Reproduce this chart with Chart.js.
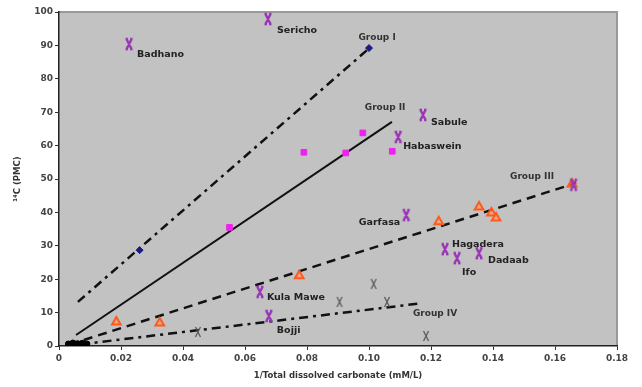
<!DOCTYPE html>
<html>
<head>
<meta charset="utf-8">
<script src="https://cdn.jsdelivr.net/npm/chart.js@4/dist/chart.umd.min.js"></script>
<style>
  html, body { margin: 0; padding: 0; background: #fff; }
  #wrap { width: 642px; height: 387px; }
</style>
</head>
<body>
<div id="wrap"><canvas id="c14Chart" width="642" height="387"></canvas></div>
<script>
// x ticks: 1/Total dissolved carbonate (mM/L), y: 14C (PMC)
const xTicks = [0, 0.02, 0.04, 0.06, 0.08, 0.10, 0.12, 0.14, 0.16, 0.18];
const yTicks = [0, 10, 20, 30, 40, 50, 60, 70, 80, 90, 100];

// Group I samples (blue diamonds)
const groupIX = [0.026, 0.100];
const groupIY = [28.7, 89.2];

// Group II samples (magenta squares)
const groupIIX = [0.055, 0.079, 0.0925, 0.098, 0.1075];
const groupIIY = [35.5, 58.0, 57.8, 63.8, 58.3];

// Group III samples (orange triangles)
const groupIIIX = [0.0185, 0.0325, 0.0775, 0.1225, 0.1355, 0.1395, 0.141, 0.1655];
const groupIIIY = [7.2, 6.9, 21.0, 37.2, 41.6, 39.8, 38.3, 48.5];

// Group IV samples (black crosses)
const groupIVX = [0.0448, 0.0905, 0.1015, 0.1058, 0.1184];
const groupIVY = [4.2, 13.2, 18.6, 13.2, 3.0];

// samples near the origin
const originX = [0.003, 0.0045, 0.006, 0.0075, 0.009];
const originY = [0.6, 0.9, 0.7, 0.8, 0.6];

// named sites (purple crosses)
const siteNames = ['Badhano', 'Sericho', 'Sabule', 'Habaswein', 'Garfasa', 'Hagadera', 'Ifo', 'Dadaab', 'Kula Mawe', 'Bojji', ''];
const siteX = [0.0226, 0.0674, 0.1174, 0.1094, 0.112, 0.1245, 0.1284, 0.1355, 0.0648, 0.0677, 0.166];
const siteY = [90.4, 97.9, 69.2, 62.6, 39.2, 29.0, 26.3, 27.8, 16.2, 9.0, 48.3];

// fitted group lines (end points)
const lineIX = [0.0061, 0.0994];   const lineIY = [13.2, 88.6];
const lineIIX = [0.0055, 0.1074];  const lineIIY = [3.3, 67.1];
const lineIIIX = [0.008, 0.1668];  const lineIIIY = [1.8, 48.8];
const lineIVX = [0.007, 0.117];    const lineIVY = [0.5, 12.8];

const groupNames = ['Group I', 'Group II', 'Group III', 'Group IV'];
const groupLabelX = [0.1026, 0.1052, 0.1526, 0.1213];
const groupLabelY = [92.2, 71.3, 50.6, 9.6];

function pts(xs, ys) {
    let out = [];
    for (let i = 0; i < xs.length; i++) {
        out.push({x: xs[i], y: ys[i]});
    }
    return out;
}

// cross marker with short serifs, as drawn in the original
function crossMarker(color, lw, serif) {
    const c = document.createElement('canvas');
    c.width = 12; c.height = 14;
    const g = c.getContext('2d');
    g.strokeStyle = color;
    g.lineWidth = lw;
    g.beginPath();
    g.moveTo(3.5, 2); g.lineTo(8.5, 12);
    g.moveTo(8.5, 2); g.lineTo(3.5, 12);
    if (serif) {
        g.moveTo(2.5, 2); g.lineTo(5, 2);
        g.moveTo(7, 2); g.lineTo(9.5, 2);
        g.moveTo(2.5, 12); g.lineTo(5, 12);
        g.moveTo(7, 12); g.lineTo(9.5, 12);
    }
    g.stroke();
    return c;
}

const purpleX = crossMarker('#9a35b5', 2.4, true);
const blackX = crossMarker('#555', 1.2, false);

// pixel offsets of each site name from its marker
const siteLabelOffsets = [
    [8, 10, 'left'], [9, 12, 'left'], [8, 8, 'left'], [5, 10, 'left'],
    [-6, 7, 'right'], [7, -5, 'left'], [5, 14, 'left'], [9, 7, 'left'],
    [7, 6, 'left'], [8, 15, 'left'], [0, 0, 'left']
];

const plotBackground = {
    id: 'plotBackground',
    beforeDraw(chart) {
        const {ctx, chartArea: a} = chart;
        ctx.save();
        ctx.fillStyle = '#c2c2c2';
        ctx.fillRect(a.left, a.top, a.right - a.left, a.bottom - a.top);
        ctx.strokeStyle = '#999';
        ctx.lineWidth = 2;
        ctx.beginPath();
        ctx.moveTo(a.left, a.top);
        ctx.lineTo(a.right, a.top);
        ctx.lineTo(a.right, a.bottom);
        ctx.stroke();
        ctx.restore();
    }
};

const textLabels = {
    id: 'textLabels',
    afterDatasetsDraw(chart) {
        const {ctx} = chart;
        const xs = chart.scales.x, ys = chart.scales.y;
        ctx.save();
        ctx.fillStyle = '#222';
        ctx.font = 'bold 9.5px "DejaVu Sans", sans-serif';
        ctx.textBaseline = 'middle';
        for (let i = 0; i < siteNames.length; i++) {
            const o = siteLabelOffsets[i];
            ctx.textAlign = o[2];
            ctx.fillText(siteNames[i], xs.getPixelForValue(siteX[i]) + o[0], ys.getPixelForValue(siteY[i]) + o[1]);
        }
        ctx.textAlign = 'center';
        ctx.fillStyle = '#333';
        ctx.font = 'bold 9px "DejaVu Sans", sans-serif';
        for (let i = 0; i < groupNames.length; i++) {
            ctx.fillText(groupNames[i], xs.getPixelForValue(groupLabelX[i]), ys.getPixelForValue(groupLabelY[i]));
        }
        ctx.restore();
    }
};

function lineSet(xs, ys, dash, width) {
    return {
        data: pts(xs, ys),
        showLine: true,
        borderColor: '#111',
        borderWidth: width,
        borderDash: dash,
        pointRadius: 0,
        order: 5
    };
}

const tickFont = {family: '"DejaVu Sans", sans-serif', size: 9, weight: 'bold'};
const titleFont = {family: '"DejaVu Sans", sans-serif', size: 8.5, weight: 'bold'};

let ctx = document.getElementById('c14Chart');
let chart = new Chart(ctx, {
    type: 'scatter',
    data: {
        datasets: [
            lineSet(lineIX, lineIY, [9, 5, 3, 5], 2.5),
            lineSet(lineIIX, lineIIY, [], 2),
            lineSet(lineIIIX, lineIIIY, [9, 6], 2.5),
            lineSet(lineIVX, lineIVY, [9, 5, 3, 5], 2.5),
            {
                data: pts(groupIX, groupIY),
                pointStyle: 'rectRot',
                pointRadius: 3.5,
                backgroundColor: '#1a1a80',
                borderColor: '#1a1a80',
                order: 1
            },
            {
                data: pts(groupIIX, groupIIY),
                pointStyle: 'rect',
                pointRadius: 4,
                backgroundColor: '#ee22ee',
                borderColor: '#ee22ee',
                order: 1
            },
            {
                data: pts(groupIIIX, groupIIIY),
                pointStyle: 'triangle',
                pointRadius: 5,
                borderWidth: 2,
                backgroundColor: 'rgba(255,150,90,0.6)',
                borderColor: '#ff5a1e',
                order: 2
            },
            {
                data: pts(groupIVX, groupIVY),
                pointStyle: blackX,
                order: 1
            },
            {
                data: pts(originX, originY),
                pointStyle: 'circle',
                pointRadius: 3,
                backgroundColor: '#000',
                borderColor: '#000',
                order: 1
            },
            {
                data: pts(siteX, siteY),
                pointStyle: purpleX,
                order: 0
            }
        ]
    },
    options: {
        responsive: false,
        animation: false,
        events: [],
        layout: {padding: {left: 0, top: 12, right: 25, bottom: 0}},
        plugins: {
            legend: {display: false},
            tooltip: {enabled: false}
        },
        scales: {
            x: {
                type: 'linear',
                min: 0,
                max: 0.18,
                afterBuildTicks(s) { s.ticks = xTicks.map(v => ({value: v})); },
                afterFit(s) { s.height = 41; },
                grid: {drawOnChartArea: false, drawTicks: true, tickLength: 4, color: '#333'},
                border: {color: '#222', width: 1.5},
                ticks: {
                    font: tickFont,
                    color: '#444',
                    padding: 3,
                    callback: v => v === 0 ? '0' : v.toFixed(2)
                },
                title: {
                    display: true,
                    text: '1/Total dissolved carbonate (mM/L)',
                    font: titleFont,
                    color: '#333',
                    padding: {top: 2, bottom: 6}
                }
            },
            y: {
                type: 'linear',
                min: 0,
                max: 100,
                afterBuildTicks(s) { s.ticks = yTicks.map(v => ({value: v})); },
                afterFit(s) { s.width = 59; },
                grid: {drawOnChartArea: false, drawTicks: true, tickLength: 4, color: '#333'},
                border: {color: '#222', width: 1.5},
                ticks: {
                    font: tickFont,
                    color: '#444',
                    padding: 2
                },
                title: {
                    display: true,
                    text: '¹⁴C (PMC)',
                    font: titleFont,
                    color: '#333',
                    padding: {top: 13, bottom: 0}
                }
            }
        }
    },
    plugins: [plotBackground, textLabels]
});
</script>
</body>
</html>
